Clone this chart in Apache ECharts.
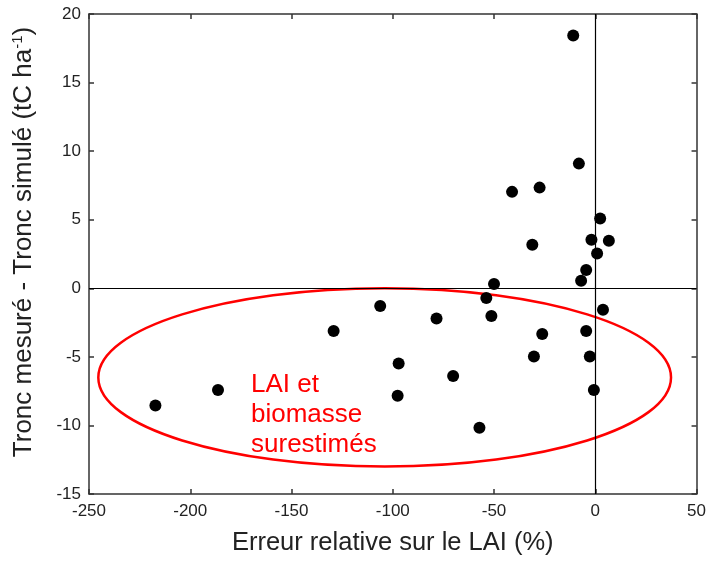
<!DOCTYPE html>
<html>
<head>
<meta charset="utf-8">
<script src="https://cdn.jsdelivr.net/npm/echarts@6/dist/echarts.min.js"></script>
<style>
html,body{margin:0;padding:0;background:#fff;}
#chart{width:709px;height:561px;}
</style>
</head>
<body>
<div id="chart"></div>
<script>
// Erreur relative sur le LAI (%) vs Tronc mesuré - Tronc simulé (tC/ha)
const laiError = [-10.9, -8.1, -41.1, -27.5, 2.4, -1.9, 6.7, -31.1, 0.9, -4.5, -7.0, -50.0, -53.8, -51.3, -106.2, -78.4, 3.8, -26.2, -4.5, -30.3, -2.7, -97.1, -70.2, -97.6, -0.7, -57.2, -129.2, -186.3, -217.2];
const troncDiff = [18.44, 9.09, 7.03, 7.34, 5.09, 3.54, 3.47, 3.18, 2.53, 1.34, 0.55, 0.31, -0.7, -2.02, -1.3, -2.2, -1.56, -3.33, -3.12, -4.98, -4.98, -5.48, -6.4, -7.83, -7.42, -10.17, -3.12, -7.42, -8.55];

const xTicks = [-250, -200, -150, -100, -50, 0, 50];
const yTicks = [-15, -10, -5, 0, 5, 10, 15, 20];
const zeroLines = [0, 0];

// Annotation ellipse: centre and semi-axes in data units
const ellipseCenter = [-104, -6.5];
const ellipseRadii = [141.4, 6.5];
const annotationPos = [-170, -9.2];
const annotationText = ['LAI et', 'biomasse', 'surestimés'];

const points = laiError.map((x, i) => [x, troncDiff[i]]);

const chart = echarts.init(document.getElementById('chart'));
const axisColor = '#333';
const font = 'Liberation Sans, Arial, sans-serif';

const baseX = {
  type: 'value', min: xTicks[0], max: xTicks[xTicks.length - 1], interval: 50,
  splitLine: { show: false },
  axisLine: { show: true, onZero: false, lineStyle: { color: axisColor, width: 1.5 } },
  axisTick: { show: true, inside: true, length: 5, lineStyle: { color: axisColor, width: 1.5 } }
};
const baseY = {
  type: 'value', min: yTicks[0], max: yTicks[yTicks.length - 1], interval: 5,
  splitLine: { show: false },
  axisLine: { show: true, onZero: false, lineStyle: { color: axisColor, width: 1.5 } },
  axisTick: { show: true, inside: true, length: 5, lineStyle: { color: axisColor, width: 1.5 } }
};

chart.setOption({
  backgroundColor: '#fff',
  animation: false,
  grid: { left: 89, right: 11, top: 14, bottom: 59.5 },
  xAxis: [
    Object.assign({}, baseX, {
      position: 'bottom',
      name: 'Erreur relative sur le LAI (%)',
      nameLocation: 'middle', nameGap: 36,
      nameTextStyle: { fontSize: 25.5, color: '#222', fontFamily: font },
      axisLabel: { fontSize: 17, color: '#222', fontFamily: font, margin: 9 }
    }),
    Object.assign({}, baseX, { position: 'top', axisLabel: { show: false } })
  ],
  yAxis: [
    Object.assign({}, baseY, {
      position: 'left',
      name: '{n|Tronc mesuré - Tronc simulé (tC ha}{s|-1}{n|)}',
      nameLocation: 'middle', nameGap: 52,
      nameTextStyle: {
        fontFamily: font, color: '#222',
        padding: [0, 0, 0, 24],
        rich: {
          n: { fontSize: 26, color: '#222', fontFamily: font },
          s: { fontSize: 15, color: '#222', fontFamily: font, verticalAlign: 'top', padding: [0, 0, 12, 0] }
        }
      },
      axisLabel: { fontSize: 17, color: '#222', fontFamily: font, margin: 8 }
    }),
    Object.assign({}, baseY, { position: 'right', axisLabel: { show: false } })
  ],
  series: [
    {
      type: 'custom',
      silent: true,
      z: 1,
      data: [[ellipseCenter[0], ellipseCenter[1]]],
      renderItem: function (params, api) {
        const c = api.coord([ellipseCenter[0], ellipseCenter[1]]);
        const s = api.size([ellipseRadii[0], ellipseRadii[1]]);
        const t = api.coord(annotationPos);
        return {
          type: 'group',
          children: [
            { type: 'ellipse', shape: { cx: c[0], cy: c[1], rx: s[0], ry: s[1] },
              style: { fill: null, stroke: '#ff0000', lineWidth: 2.5 } },
            { type: 'text', x: t[0], y: t[1],
              style: { text: annotationText.join('\n'), fill: '#ff0000', fontSize: 26,
                       fontFamily: font, lineHeight: 30, align: 'left', verticalAlign: 'middle' } }
          ]
        };
      }
    },
    {
      type: 'scatter',
      z: 3,
      data: points,
      symbol: 'circle',
      symbolSize: 12,
      itemStyle: { color: '#000', opacity: 1 },
      markLine: {
        silent: true,
        symbol: ['none', 'none'],
        label: { show: false },
        lineStyle: { color: '#000', width: 1.2, type: 'solid' },
        data: [{ xAxis: zeroLines[0] }, { yAxis: zeroLines[1] }]
      }
    }
  ]
});
</script>
</body>
</html>
